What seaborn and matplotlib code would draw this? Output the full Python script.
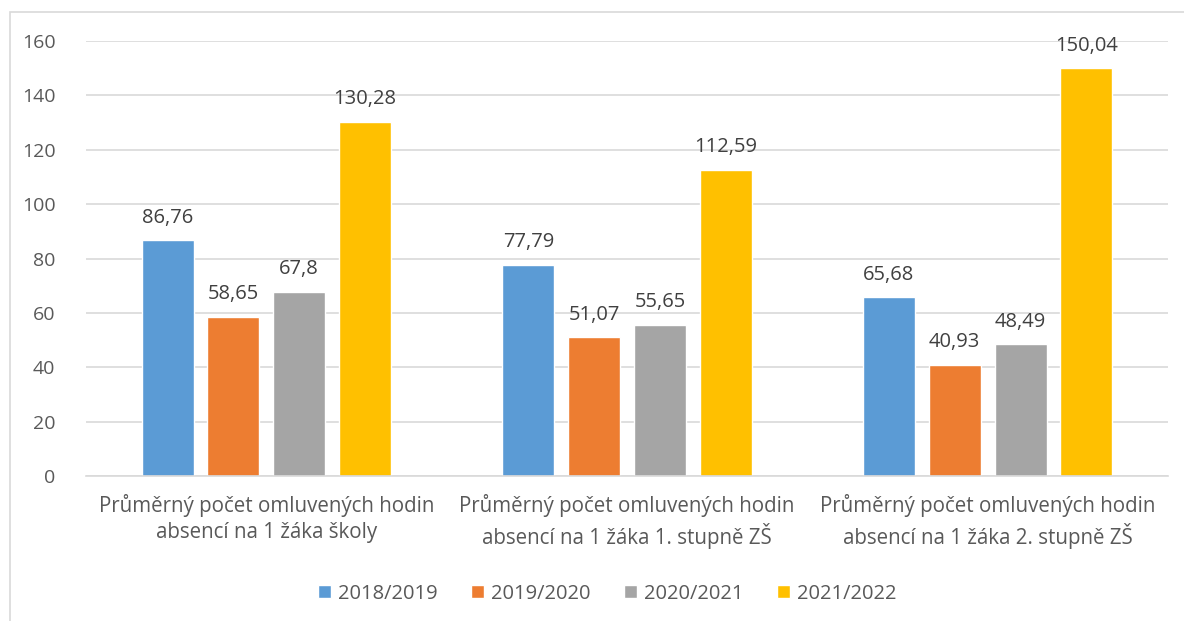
import pandas as pd
import matplotlib.pyplot as plt
import seaborn as sns
from matplotlib.patches import Rectangle

# Data
categories = [
    'Průměrný počet omluvených hodin\nabsencí na 1 žáka školy',
    'Průměrný počet omluvených hodin\nabsencí na 1 žáka 1. stupně ZŠ',
    'Průměrný počet omluvených hodin\nabsencí na 1 žáka 2. stupně ZŠ',
]
years = ['2018/2019', '2019/2020', '2020/2021', '2021/2022']
v_2018 = [86.76, 77.79, 65.68]
v_2019 = [58.65, 51.07, 40.93]
v_2020 = [67.8, 55.65, 48.49]
v_2021 = [130.28, 112.59, 150.04]
colors = ['#5B9BD5', '#ED7D31', '#A5A5A5', '#FFC000']

rows = []
for year, vals in zip(years, [v_2018, v_2019, v_2020, v_2021]):
    for cat, v in zip(categories, vals):
        rows.append({'kategorie': cat, 'rok': year, 'hodnota': v})
df = pd.DataFrame(rows)

sns.set_style('white')
plt.rcParams['font.family'] = ['Open Sans', 'DejaVu Sans']

fig = plt.figure(figsize=(11.84, 6.21), dpi=100)
ax = fig.add_axes([86 / 1184, 1 - 476 / 621, (1168 - 86) / 1184, (476 - 41) / 621])

sns.barplot(data=df, x='kategorie', y='hodnota', hue='rok', hue_order=years,
            palette=colors, width=0.73, gap=0.21, saturation=1, ax=ax, legend=True)

ax.set_ylim(0, 160)
ax.set_yticks(range(0, 161, 20))
ax.set_xlim(-0.5, 2.5)
ax.yaxis.grid(True, color='#D9D9D9', linewidth=1.2)
ax.set_axisbelow(True)
for s in ['top', 'right', 'left']:
    ax.spines[s].set_visible(False)
ax.spines['bottom'].set_color('#D9D9D9')
ax.spines['bottom'].set_linewidth(1.2)
ax.set_xlabel('')
ax.set_ylabel('')
ax.tick_params(axis='both', length=0, labelsize=14, colors='#595959')
ax.tick_params(axis='y', pad=22)
ax.tick_params(axis='x', pad=13)
for lab in ax.get_xticklabels():
    lab.set_fontsize(14.8)
    lab.set_linespacing(1.3)

# Popisky hodnot
for cont in ax.containers:
    labels = [f'{b.get_height():g}'.replace('.', ',') for b in cont]
    ax.bar_label(cont, labels=labels, padding=9, fontsize=14.5, color='#404040')

ax.legend(loc='lower center', bbox_to_anchor=(0.482, -0.335), ncol=4, frameon=False,
          fontsize=14.5, handlelength=0.65, handleheight=0.65, handletextpad=0.35,
          columnspacing=1.65, labelcolor='#595959')

# Rámeček
fig.patches.append(Rectangle((10 / 1184, -0.1), 1.2, 1 - 12 / 621 + 0.1,
                             transform=fig.transFigure, fill=False,
                             edgecolor='#D9D9D9', linewidth=1.2))

plt.savefig('out.png', dpi=100)
plt.close()
